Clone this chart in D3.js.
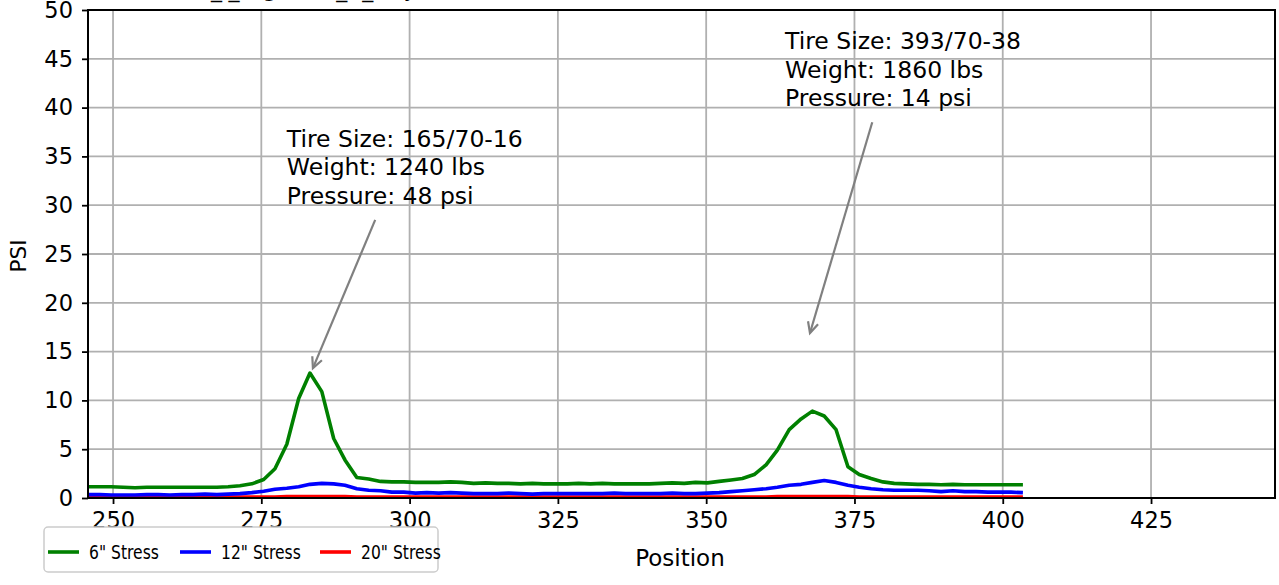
<!DOCTYPE html>
<html>
<head>
<meta charset="utf-8">
<script src="https://cdn.jsdelivr.net/npm/d3@7"></script>
<style>
  body { margin: 0; background: #fff; }
  svg { display: block; font-family: "DejaVu Sans", sans-serif; }
</style>
</head>
<body>
<svg id="chart" width="1279" height="585"></svg>
<script>
// positions along the line (x values)
var positions = [245.8, 247.8, 249.7, 251.7, 253.7, 255.7, 257.6, 259.6, 261.6, 263.5,
    265.5, 267.5, 269.4, 271.4, 273.4, 275.4, 277.3, 279.3, 281.3, 283.2,
    285.2, 287.2, 289.1, 291.1, 293.1, 295.1, 297.0, 299.0, 301.0, 302.9,
    304.9, 306.9, 308.8, 310.8, 312.8, 314.8, 316.7, 318.7, 320.7, 322.6,
    324.6, 326.6, 328.5, 330.5, 332.5, 334.5, 336.4, 338.4, 340.4, 342.3,
    344.3, 346.3, 348.2, 350.2, 352.2, 354.2, 356.1, 358.1, 360.1, 362.0,
    364.0, 366.0, 367.9, 369.9, 371.9, 373.9, 375.8, 377.8, 379.8, 381.7,
    383.7, 385.7, 387.6, 389.6, 391.6, 393.6, 395.5, 397.5, 399.5, 401.4, 403.4];

var stress6 = [1.15, 1.15, 1.15, 1.1, 1.05, 1.1, 1.1, 1.1, 1.1, 1.1,
    1.1, 1.1, 1.15, 1.25, 1.45, 1.9, 3.0, 5.5, 10.2, 12.8,
    10.9, 6.1, 3.9, 2.1, 1.95, 1.7, 1.65, 1.65, 1.6, 1.6,
    1.6, 1.65, 1.6, 1.5, 1.55, 1.5, 1.5, 1.45, 1.5, 1.45,
    1.45, 1.45, 1.5, 1.45, 1.5, 1.45, 1.45, 1.45, 1.45, 1.5,
    1.55, 1.5, 1.6, 1.55, 1.7, 1.85, 2.0, 2.4, 3.4, 4.9,
    7.0, 8.1, 8.9, 8.4, 7.0, 3.2, 2.4, 2.0, 1.65, 1.5,
    1.45, 1.4, 1.4, 1.35, 1.4, 1.35, 1.35, 1.35, 1.35, 1.35, 1.35];

var stress12 = [0.35, 0.35, 0.3, 0.3, 0.3, 0.35, 0.35, 0.3, 0.35, 0.35,
    0.4, 0.35, 0.4, 0.45, 0.55, 0.7, 0.9, 1.0, 1.15, 1.4,
    1.5, 1.45, 1.3, 0.95, 0.8, 0.75, 0.6, 0.6, 0.5, 0.55,
    0.5, 0.55, 0.5, 0.45, 0.45, 0.45, 0.5, 0.45, 0.4, 0.45,
    0.45, 0.45, 0.45, 0.45, 0.45, 0.5, 0.45, 0.45, 0.45, 0.45,
    0.5, 0.45, 0.45, 0.5, 0.55, 0.65, 0.75, 0.85, 0.95, 1.1,
    1.3, 1.4, 1.6, 1.8, 1.6, 1.3, 1.1, 0.95, 0.85, 0.8,
    0.8, 0.8, 0.75, 0.65, 0.75, 0.65, 0.65, 0.6, 0.6, 0.6, 0.55];

var stress20 = [0.1, 0.1, 0.1, 0.1, 0.1, 0.1, 0.1, 0.1, 0.1, 0.1,
    0.1, 0.1, 0.1, 0.1, 0.1, 0.1, 0.1, 0.15, 0.15, 0.15,
    0.15, 0.15, 0.15, 0.1, 0.1, 0.1, 0.1, 0.1, 0.1, 0.1,
    0.1, 0.1, 0.1, 0.1, 0.1, 0.1, 0.1, 0.1, 0.1, 0.1,
    0.1, 0.1, 0.1, 0.1, 0.1, 0.1, 0.1, 0.1, 0.1, 0.1,
    0.1, 0.1, 0.1, 0.1, 0.1, 0.1, 0.1, 0.1, 0.1, 0.15,
    0.15, 0.15, 0.15, 0.15, 0.15, 0.15, 0.1, 0.1, 0.1, 0.1,
    0.1, 0.1, 0.1, 0.1, 0.1, 0.1, 0.1, 0.1, 0.1, 0.1, 0.1];

var seriesNames = ['6" Stress', '12" Stress', '20" Stress'];
var seriesColors = ["green", "blue", "red"];

var xTicks = [250, 275, 300, 325, 350, 375, 400, 425];
var yTicks = [0, 5, 10, 15, 20, 25, 30, 35, 40, 45, 50];

var titleText = "S_I_Tag Data_A_Day Stress Results";

// annotation text anchor, arrow start and arrow tip, in data units
var annoLines = [
    ["Tire Size: 165/70-16", "Weight: 1240 lbs", "Pressure: 48 psi"],
    ["Tire Size: 393/70-38", "Weight: 1860 lbs", "Pressure: 14 psi"]
];
var annoText = [[279.3, 36.0], [363.3, 46.0]];
var annoFrom = [[294.2, 28.5], [378.0, 38.5]];
var annoTo = [[283.7, 13.3], [367.5, 16.9]];

var svg = d3.select("#chart");
var margin = {top: 10, right: 4, bottom: 87, left: 88},
    width = +svg.attr("width") - margin.left - margin.right,
    height = +svg.attr("height") - margin.top - margin.bottom;

var x = d3.scaleLinear().domain([245.78, 445.9]).range([0, width]);
var y = d3.scaleLinear().domain([0, 50]).range([height, 0]);

// title, mostly cut off by the top edge
svg.append("text")
    .attr("x", 197)
    .attr("y", -3)
    .style("font-size", "22px")
    .text(titleText);

var g = svg.append("g")
    .attr("transform", "translate(" + margin.left + "," + margin.top + ")");

// grid
g.selectAll(".xgrid")
    .data(xTicks)
    .enter().append("line")
    .attr("x1", function(d) { return x(d); })
    .attr("x2", function(d) { return x(d); })
    .attr("y1", 0)
    .attr("y2", height)
    .style("stroke", "#b0b0b0")
    .style("stroke-width", 1.8);

g.selectAll(".ygrid")
    .data(yTicks)
    .enter().append("line")
    .attr("x1", 0)
    .attr("x2", width)
    .attr("y1", function(d) { return y(d); })
    .attr("y2", function(d) { return y(d); })
    .style("stroke", "#b0b0b0")
    .style("stroke-width", 1.8);

// axes
var xAxis = d3.axisBottom(x).tickValues(xTicks).tickSize(6).tickPadding(8).tickFormat(d3.format("d"));
var yAxis = d3.axisLeft(y).tickValues(yTicks).tickSize(6).tickPadding(9).tickFormat(d3.format("d"));

var gx = g.append("g")
    .attr("transform", "translate(0," + height + ")")
    .call(xAxis);
var gy = g.append("g").call(yAxis);

[gx, gy].forEach(function(ax) {
    ax.select(".domain").remove();
    ax.selectAll(".tick line").style("stroke", "#000").style("stroke-width", 1.8);
    ax.selectAll(".tick text")
        .style("font-family", "DejaVu Sans, sans-serif")
        .style("font-size", "22.5px")
        .style("fill", "#000");
});

// lines
var seriesData = [stress6, stress12, stress20];
var line = d3.line()
    .x(function(d) { return x(d[0]); })
    .y(function(d) { return y(d[1]); });

seriesData.slice().reverse().forEach(function(vals, k) {
    var i = seriesData.length - 1 - k;
    g.append("path")
        .datum(d3.zip(positions, vals))
        .attr("d", line)
        .style("fill", "none")
        .style("stroke", seriesColors[i])
        .style("stroke-width", 3.6)
        .style("stroke-linejoin", "round");
});

// frame
g.append("rect")
    .attr("width", width)
    .attr("height", height)
    .style("fill", "none")
    .style("stroke", "#000")
    .style("stroke-width", 2);

// annotations
annoLines.forEach(function(lines, i) {
    var t = g.append("text")
        .attr("x", x(annoText[i][0]))
        .attr("y", y(annoText[i][1]))
        .style("font-size", "23.5px")
        .style("fill", "#000");
    lines.forEach(function(s, j) {
        t.append("tspan")
            .attr("x", x(annoText[i][0]))
            .attr("dy", j === 0 ? 0 : 28.5)
            .text(s);
    });

    var x0 = x(annoFrom[i][0]), y0 = y(annoFrom[i][1]),
        x1 = x(annoTo[i][0]), y1 = y(annoTo[i][1]);
    var ang = Math.atan2(y1 - y0, x1 - x0), hl = 12, ha = 0.45;
    g.append("line")
        .attr("x1", x0).attr("y1", y0)
        .attr("x2", x1).attr("y2", y1)
        .style("stroke", "#808080")
        .style("stroke-width", 2.2);
    g.append("path")
        .attr("d", "M" + (x1 - hl * Math.cos(ang - ha)) + "," + (y1 - hl * Math.sin(ang - ha)) +
            "L" + x1 + "," + y1 +
            "L" + (x1 - hl * Math.cos(ang + ha)) + "," + (y1 - hl * Math.sin(ang + ha)))
        .style("fill", "none")
        .style("stroke", "#808080")
        .style("stroke-width", 2.2);
});

// axis labels
svg.append("text")
    .attr("x", 680)
    .attr("y", 566)
    .style("text-anchor", "middle")
    .style("font-size", "23px")
    .text("Position");

svg.append("text")
    .attr("transform", "translate(26,256) rotate(-90)")
    .style("text-anchor", "middle")
    .style("font-size", "21.5px")
    .text("PSI");

// legend
var legend = svg.append("g");
legend.append("rect")
    .attr("x", 44).attr("y", 527)
    .attr("width", 394).attr("height", 45)
    .attr("rx", 4)
    .style("fill", "#fff")
    .style("fill-opacity", 0.8)
    .style("stroke", "#cccccc")
    .style("stroke-width", 1.5);

var legX = [48, 180, 320];
seriesNames.forEach(function(name, i) {
    legend.append("line")
        .attr("x1", legX[i]).attr("x2", legX[i] + 31)
        .attr("y1", 552).attr("y2", 552)
        .style("stroke", seriesColors[i])
        .style("stroke-width", 3.6);
    legend.append("text")
        .attr("transform", "translate(" + (legX[i] + 41) + ",552) scale(0.82,1)")
        .attr("dy", ".35em")
        .style("font-size", "19px")
        .text(name);
});
</script>
</body>
</html>
